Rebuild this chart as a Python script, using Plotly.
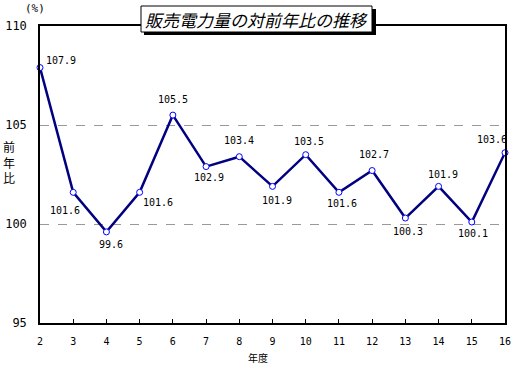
import plotly.graph_objects as go

years = [2, 3, 4, 5, 6, 7, 8, 9, 10, 11, 12, 13, 14, 15, 16]
values = [107.9, 101.6, 99.6, 101.6, 105.5, 102.9, 103.4, 101.9, 103.5, 101.6, 102.7, 100.3, 101.9, 100.1, 103.6]
label_text = ["107.9", "101.6", "99.6", "101.6", "105.5", "102.9", "103.4", "101.9", "103.5", "101.6", "102.7", "100.3", "101.9", "100.1", "103.6"]
# label pixel offsets (dx, dy), dy positive = downward
label_offsets = [(21, -7), (-8, 18), (5, 13), (18, 10), (0, -16), (3, 11), (0, -16), (4, 14),
                 (3, -13), (3, 11), (2, -16), (3, 13), (4, -12), (1, 11), (-13, -13)]
y_ticks = [95, 100, 105, 110]

W, H = 520, 366
L, R, T, B = 40, 15, 26, 43
PW, PH = W - L - R, H - T - B

def px(x):  # page pixel x -> paper
    return (x - L) / PW

def py(y):  # page pixel y -> paper
    return (H - B - y) / PH

fig = go.Figure()
fig.add_trace(go.Scatter(
    x=years, y=values, mode="lines+markers",
    line=dict(color="#000080", width=2.5),
    marker=dict(symbol="circle", size=6, color="white", line=dict(color="#0000FF", width=1)),
    cliponaxis=False, hoverinfo="skip", showlegend=False,
))

lab_font = dict(family="DejaVu Sans Mono", size=10, color="black")
for xv, yv, t, (dx, dy) in zip(years, values, label_text, label_offsets):
    fig.add_annotation(x=xv, y=yv, text=t, showarrow=False, xshift=dx, yshift=-dy,
                       font=lab_font, xanchor="center", yanchor="middle")

# title box with shadow
fig.add_shape(type="rect", xref="paper", yref="paper", x0=px(144), x1=px(376), y0=py(35), y1=py(9),
              fillcolor="black", line=dict(width=0), layer="above")
fig.add_shape(type="rect", xref="paper", yref="paper", x0=px(141), x1=px(372), y0=py(32), y1=py(6),
              fillcolor="white", line=dict(color="black", width=1), layer="above")
fig.add_annotation(xref="paper", yref="paper", x=px(256.5), y=py(19), text="<i>販売電力量の対前年比の推移</i>",
                   showarrow=False, font=dict(family="Noto Sans CJK JP", size=17, color="black"),
                   xanchor="center", yanchor="middle")

fig.add_annotation(xref="paper", yref="paper", x=px(35), y=py(9), text="(%)", showarrow=False,
                   font=dict(family="DejaVu Sans Mono", size=11, color="black"), xanchor="center", yanchor="middle")
fig.add_annotation(xref="paper", yref="paper", x=px(9), y=py(162), text="前<br>年<br>比", showarrow=False,
                   font=dict(family="Noto Sans CJK JP", size=12, color="black"), xanchor="center", yanchor="middle")
fig.add_annotation(xref="paper", yref="paper", x=px(258), y=py(357), text="年度", showarrow=False,
                   font=dict(family="Noto Sans CJK JP", size=10, color="black"), xanchor="center", yanchor="middle")

fig.update_layout(
    width=W, height=H, margin=dict(l=L, r=R, t=T, b=B, autoexpand=False),
    paper_bgcolor="white", plot_bgcolor="white",
    xaxis=dict(range=[2, 16], tickvals=years, ticktext=[str(v) for v in years], automargin=False,
               showline=True, linecolor="black", linewidth=1.5, mirror=True,
               ticks="inside", ticklen=4, tickcolor="black", showgrid=False, zeroline=False,
               tickfont=dict(family="DejaVu Sans Mono", size=10, color="black"), ticklabelstandoff=8),
    yaxis=dict(range=[95, 110], tickvals=y_ticks, ticktext=[str(v) for v in y_ticks], automargin=False,
               showline=True, linecolor="black", linewidth=1.5, mirror=True,
               ticks="", showgrid=True, gridcolor="#999999", griddash="dash", gridwidth=1, zeroline=False,
               tickfont=dict(family="DejaVu Sans Mono", size=12, color="black"), ticklabelstandoff=9),
)

fig.write_html("out.html", config={"displayModeBar": False},
               post_script="document.body.style.margin='0px';")
